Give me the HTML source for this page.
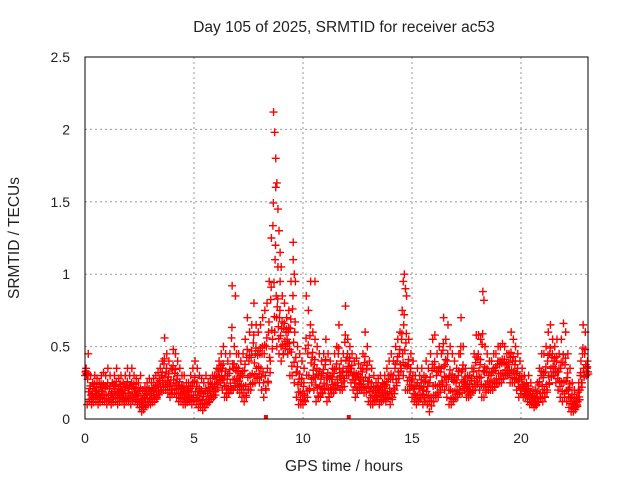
<!DOCTYPE html>
<html><head><meta charset="utf-8"><style>
body{margin:0;background:#fff}
svg text{font-family:"Liberation Sans",sans-serif;font-size:14px;fill:#222}
svg text.big{font-size:15.5px}
</style></head><body>
<svg id="chart" width="640" height="480">
<rect width="640" height="480" fill="#fff"/>
<text class="big" x="344" y="32" text-anchor="middle">Day 105 of 2025, SRMTID for receiver ac53</text>
<text class="big" x="344" y="471" text-anchor="middle">GPS time / hours</text>
<text class="big" transform="translate(19,238) rotate(-90)" text-anchor="middle">SRMTID / TECUs</text>
<g id="grid"></g>
<g id="ticks"></g>
<g id="marks"></g>
<rect x="85" y="57" width="503" height="362" fill="none" stroke="#000" stroke-width="1"/>
</svg>
<script>
const xTicks=[0,5,10,15,20];
const yTicks=[0,0.5,1,1.5,2,2.5];
const yTickLabels=["0","0.5","1","1.5","2","2.5"];
const lo=[.3,.1,.12,.1,.15,.12,.1,.15,.12,.12,
.1,.12,.1,.15,.12,.1,.15,.12,.1,.12,
.12,.1,.15,.12,.1,.08,.05,.08,.1,.1,
.1,.12,.12,.15,.18,.2,.2,.2,.18,.15,
.2,.18,.15,.12,.12,.1,.1,.12,.12,.1,
.12,.1,.08,.08,.06,.08,.1,.12,.15,.15,
.2,.25,.25,.2,.15,.15,.18,.2,.2,.22,
.2,.18,.15,.12,.15,.2,.2,.25,.25,.28,
.25,.2,.15,.2,.25,.4,.55,.6,.5,.45,
.4,.45,.5,.45,.3,.3,.25,.15,.1,.1,
.1,.12,.15,.2,.25,.2,.12,.15,.15,.18,
.2,.12,.15,.2,.18,.2,.25,.2,.2,.28,
.3,.3,.25,.2,.15,.2,.2,.2,.18,.18,
.12,.1,.1,.12,.15,.1,.12,.15,.12,.15,
.1,.15,.2,.25,.3,.35,.3,.2,.2,.2,
.15,.12,.1,.12,.15,.1,.12,.1,.05,.12,
.12,.15,.15,.2,.25,.2,.15,.1,.1,.12,
.15,.15,.2,.18,.2,.15,.15,.18,.2,.2,
.25,.2,.15,.15,.2,.2,.2,.2,.22,.25,
.25,.25,.28,.3,.3,.25,.25,.25,.2,.15,
.2,.15,.15,.12,.1,.1,.08,.1,.12,.15,
.12,.15,.2,.25,.3,.3,.25,.2,.15,.12,
.15,.12,.08,.05,.05,.08,.12,.2,.25,.3,.3];
const hi=[.35,.45,.3,.25,.3,.28,.25,.3,.32,.3,
.35,.3,.25,.3,.35,.28,.3,.25,.3,.35,
.3,.35,.3,.28,.25,.3,.2,.22,.25,.28,
.25,.28,.3,.32,.35,.4,.56,.45,.4,.35,
.48,.45,.4,.35,.3,.3,.25,.25,.3,.35,
.4,.35,.3,.28,.25,.3,.25,.28,.3,.3,
.35,.4,.45,.5,.45,.4,.45,.92,.5,.45,
.45,.4,.45,.55,.7,.6,.65,.8,.65,.6,
.65,.7,.75,.8,.95,1.25,2.12,1.6,1.05,.95,
.85,.8,.7,.75,.95,1.22,.95,.5,.45,.4,
.35,.85,.75,.95,.6,.55,.5,.45,.4,.45,
.55,.45,.4,.35,.45,.5,.65,.4,.45,.78,
.55,.5,.45,.4,.42,.38,.35,.45,.6,.5,
.4,.35,.3,.25,.28,.3,.25,.3,.35,.4,
.45,.4,.5,.55,.6,.75,1.0,.85,.55,.45,
.4,.3,.35,.3,.35,.3,.4,.35,.45,.55,
.58,.45,.5,.45,.7,.55,.65,.5,.45,.4,
.35,.45,.7,.5,.35,.3,.3,.35,.45,.58,
.58,.55,.88,.5,.45,.4,.4,.45,.45,.5,
.5,.52,.5,.45,.45,.6,.55,.5,.45,.4,
.35,.3,.25,.3,.25,.2,.2,.25,.35,.45,
.45,.5,.6,.65,.55,.5,.55,.45,.55,.66,
.6,.45,.35,.25,.2,.15,.25,.4,.65,.6,.4];
const spikeT=[8.7,8.75,8.8,8.85,8.9,8.95,9.0,9.55,9.6,10.55,14.6,14.7,18.3,6.9];
const spikeV=[1.98,1.8,1.63,1.45,1.3,1.15,1.05,1.1,1.0,0.95,0.95,0.9,0.82,0.85];
const X0=85,XS=21.8,Y0=419,YS=144.8;
const xs=t=>X0+t*XS, ys=v=>Y0-v*YS;
const NS="http://www.w3.org/2000/svg";
const grid=document.getElementById('grid'),ticks=document.getElementById('ticks'),marks=document.getElementById('marks');
function ln(g,x1,y1,x2,y2,st,dash){const l=document.createElementNS(NS,'line');l.setAttribute('x1',x1);l.setAttribute('y1',y1);l.setAttribute('x2',x2);l.setAttribute('y2',y2);l.setAttribute('stroke',st);if(dash)l.setAttribute('stroke-dasharray',dash);g.appendChild(l);return l;}
xTicks.forEach(t=>{const x=xs(t);
 if(t>0){const g=ln(grid,x,57,x,419,'#999','2,3');}
 const tk=document.createElementNS(NS,'text');tk.setAttribute('x',x);tk.setAttribute('y',443);tk.setAttribute('text-anchor','middle');tk.textContent=t;
 
 
 ticks.appendChild(tk);});
yTicks.forEach((v,i)=>{const y=ys(v);
 if(v>0&&v<2.5){const g=ln(grid,85,y,588,y,'#999','2,3');}
 const tk=document.createElementNS(NS,'text');tk.setAttribute('x',70);tk.setAttribute('y',y+5);tk.setAttribute('text-anchor','end');tk.textContent=yTickLabels[i];
 
 
 ticks.appendChild(tk);});
function cross(t,v){const x=xs(t),y=ys(v);const p=document.createElementNS(NS,'path');
 p.setAttribute('d',`M${x-4} ${y}H${x+4}M${x} ${y-4}V${y+4}`);p.setAttribute('stroke','#f00');p.setAttribute('stroke-width','1.4');
 
 
 marks.appendChild(p);}
for(let i=0;i<lo.length;i++){const t=i*0.1,a=lo[i],b=hi[i];
 cross(t,a);cross(t+0.05,b);cross(t+0.02,(a+b)/2);cross(t+0.07,a*0.75+b*0.25);cross(t+0.04,a*0.4+b*0.6);cross(t+0.09,a*0.9+b*0.1);}
spikeT.forEach((t,i)=>cross(t,spikeV[i]));
[8.3,12.1].forEach(t=>{const r=document.createElementNS(NS,'rect');r.setAttribute('x',xs(t)-2);r.setAttribute('y',415);r.setAttribute('width',4);r.setAttribute('height',4);r.setAttribute('fill','#f00');
 
 
 marks.appendChild(r);});
</script>
</body></html>
